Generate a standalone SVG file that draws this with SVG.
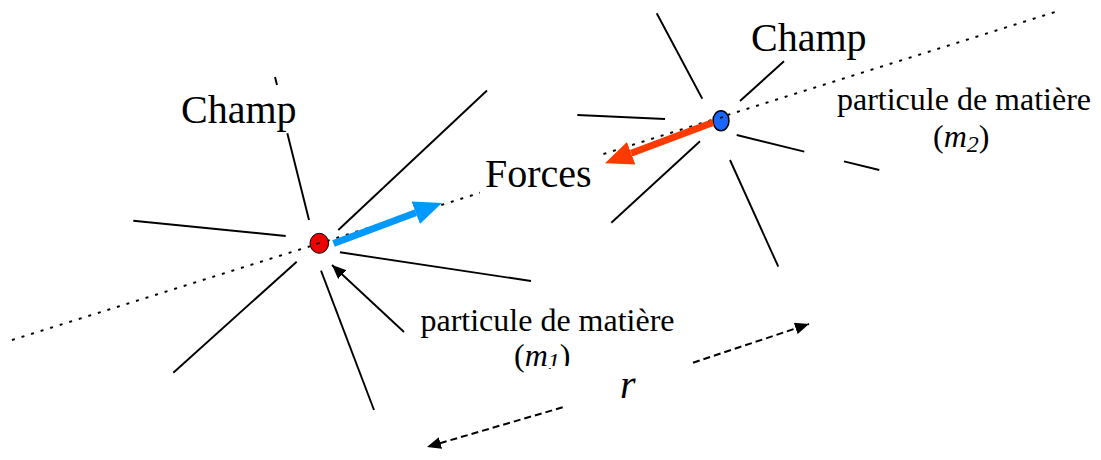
<svg xmlns="http://www.w3.org/2000/svg" width="1101" height="460" viewBox="0 0 1101 460">
<style>
.txt{font-family:"Liberation Serif","Times New Roman",serif;fill:#000}
.big{font-size:40px}
.lbl{font-size:32px}
.sub{font-size:24px;font-style:italic}
.field{stroke:#000;stroke-width:1.9;fill:none}
.dotted{stroke:#000;stroke-width:2;stroke-dasharray:3 7;fill:none}
.dashed{stroke:#000;stroke-width:2;stroke-dasharray:7 4;fill:none}
.pointer{stroke:#000;stroke-width:1.9;fill:none}
</style>
<defs>
<marker id="headBlack" viewBox="0 0 14 12" markerWidth="14" markerHeight="12" refX="14" refY="6" orient="auto" markerUnits="userSpaceOnUse"><path d="M0,0 L14,6 L0,12 z" fill="#000"/></marker>
<marker id="headBlue" viewBox="0 0 28 24" markerWidth="28" markerHeight="24" refX="0" refY="12" orient="auto" markerUnits="userSpaceOnUse"><path d="M0,0 L28,12 L0,24 z" fill="#0099ff"/></marker>
<marker id="headRed" viewBox="0 0 28 24" markerWidth="28" markerHeight="24" refX="0" refY="12" orient="auto" markerUnits="userSpaceOnUse"><path d="M0,0 L28,12 L0,24 z" fill="#ff3a00"/></marker>
</defs>
<rect width="1101" height="460" fill="#fff"/>

<g id="connectors">
<line class="dotted" x1="12" y1="340" x2="1055" y2="12"/>
<line class="dashed" x1="693" y1="362.7" x2="809" y2="324" marker-end="url(#headBlack)"/>
<line class="dashed" x1="562.7" y1="407.3" x2="427" y2="447" marker-end="url(#headBlack)"/>
<line class="pointer" x1="404" y1="332" x2="332" y2="265" marker-end="url(#headBlack)"/>
</g>

<g id="label-forces">
<rect x="480" y="150" width="118" height="46" fill="#fff"/>
<text class="txt big" x="485" y="187">Forces</text>
</g>

<g id="particle-m1">
<line class="field" x1="275" y1="77" x2="277" y2="85"/>
<line class="field" x1="287.3" y1="133.3" x2="309" y2="220"/>
<line class="field" x1="338.3" y1="230" x2="487" y2="90.5"/>
<line class="field" x1="133.3" y1="220.7" x2="285.7" y2="236"/>
<line class="field" x1="340" y1="252.3" x2="531" y2="281"/>
<line class="field" x1="296.7" y1="261.7" x2="173.3" y2="372.7"/>
<line class="field" x1="321" y1="270.7" x2="374" y2="410"/>
<ellipse cx="319.3" cy="243.3" rx="9.3" ry="10" fill="#ee0000" stroke="#000" stroke-width="1"/>
<line x1="316" y1="244" x2="320" y2="243" stroke="#000" stroke-width="1.5"/>
</g>

<g id="particle-m2">
<line class="field" x1="656.7" y1="13.3" x2="702.3" y2="98.7"/>
<line class="field" x1="740" y1="101" x2="784" y2="61.3"/>
<line class="field" x1="577.3" y1="115" x2="665" y2="119"/>
<line class="field" x1="736.7" y1="135" x2="804.3" y2="151.7"/>
<line class="field" x1="844" y1="161.3" x2="879.3" y2="170"/>
<line class="field" x1="700" y1="141.3" x2="611.3" y2="222.7"/>
<line class="field" x1="730" y1="160" x2="778.3" y2="266.7"/>
<ellipse cx="721" cy="120.7" rx="8" ry="10" fill="#1a66ff" stroke="#000" stroke-width="1.5"/>
<line x1="720" y1="118" x2="723" y2="117" stroke="#000" stroke-width="1.5"/>
</g>

<g id="force-arrows">
<line x1="333.5" y1="243.5" x2="415.7" y2="212.7" stroke="#0099ff" stroke-width="7" marker-end="url(#headBlue)"/>
<line x1="713" y1="122.5" x2="631.2" y2="153.3" stroke="#ff3a00" stroke-width="7" marker-end="url(#headRed)"/>
</g>

<g id="label-champ1"><text class="txt big" x="181" y="123">Champ</text></g>
<g id="label-champ2"><text class="txt big" x="751" y="51">Champ</text></g>

<g id="label-m2">
<text class="txt lbl" x="964" y="110" text-anchor="middle">particule de matière</text>
<text class="txt lbl" x="933" y="147">(<tspan font-style="italic">m</tspan><tspan class="sub" dy="5">2</tspan><tspan dy="-5">)</tspan></text>
</g>

<g id="label-m1">
<text class="txt lbl" x="547.5" y="331" text-anchor="middle">particule de matière</text>
<text class="txt lbl" x="514" y="366">(<tspan font-style="italic">m</tspan><tspan class="sub" dy="3">1</tspan><tspan dy="-3">)</tspan></text>
</g>

<g id="label-r">
<rect x="551" y="366" width="141" height="37" fill="#fff"/>
<text class="txt big" x="620" y="398" font-style="italic">r</text>
</g>
</svg>
